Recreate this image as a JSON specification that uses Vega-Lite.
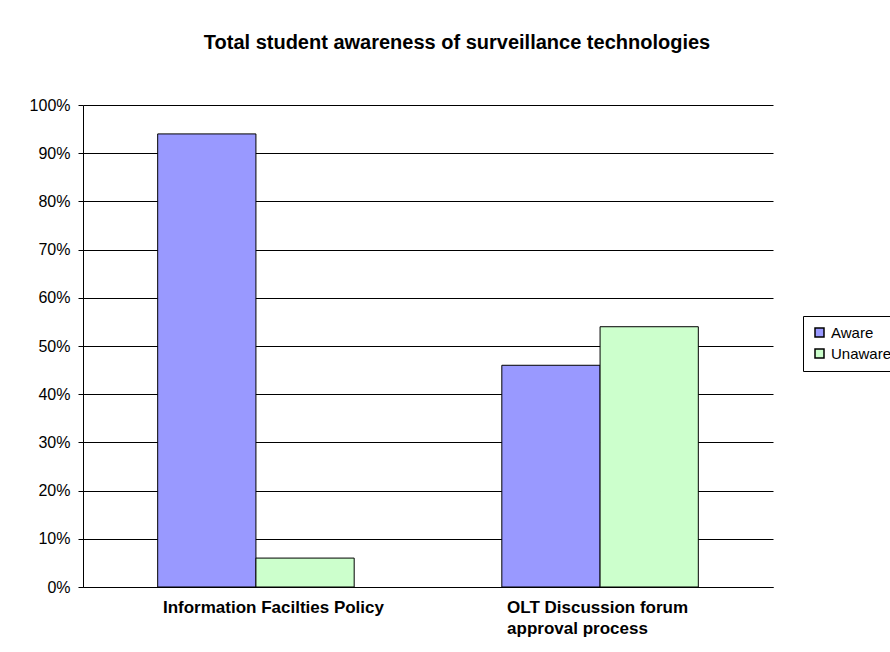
{
  "$schema": "https://vega.github.io/schema/vega-lite/v6.json",
  "width": 690,
  "height": 482,
  "autosize": {"type": "none"},
  "padding": {"left": 83, "top": 105, "right": 117, "bottom": 65},
  "background": "white",
  "title": {
    "text": "Total student awareness of surveillance technologies",
    "font": "Liberation Sans",
    "fontSize": 20,
    "fontWeight": "bold",
    "color": "black",
    "anchor": "middle",
    "dx": 29,
    "offset": 44
  },
  "data": {
    "values": [
      {"category": "Information Facilties Policy", "status": "Aware", "value": 0.94},
      {"category": "Information Facilties Policy", "status": "Unaware", "value": 0.06},
      {"category": "OLT Discussion forum approval process", "status": "Aware", "value": 0.46},
      {"category": "OLT Discussion forum approval process", "status": "Unaware", "value": 0.54}
    ]
  },
  "mark": {"type": "bar", "stroke": "black", "strokeWidth": 1},
  "encoding": {
    "x": {
      "field": "category",
      "type": "nominal",
      "title": null,
      "scale": {"paddingInner": 0.429, "paddingOuter": 0.217},
      "axis": {
        "labelAngle": 0,
        "labelAlign": "left",
        "labelBaseline": "top",
        "labelOffset": -93,
        "labelPadding": 12,
        "labelFont": "Liberation Sans",
        "labelFontSize": 17,
        "labelFontWeight": "bold",
        "labelColor": "black",
        "labelLineHeight": 21,
        "labelLimit": 400,
        "ticks": false,
        "domain": true,
        "domainColor": "black",
        "labelExpr": "datum.label == 'OLT Discussion forum approval process' ? ['OLT Discussion forum', 'approval process'] : datum.label"
      }
    },
    "xOffset": {"field": "status", "type": "nominal", "scale": {"paddingInner": 0, "paddingOuter": 0}},
    "y": {
      "field": "value",
      "type": "quantitative",
      "title": null,
      "scale": {"domain": [0, 1], "nice": false},
      "axis": {
        "format": ".0%",
        "values": [0, 0.1, 0.2, 0.3, 0.4, 0.5, 0.6, 0.7, 0.8, 0.9, 1],
        "grid": true,
        "gridColor": "black",
        "gridOpacity": 1,
        "gridWidth": 1,
        "domainColor": "black",
        "tickColor": "black",
        "tickSize": 5,
        "labelPadding": 8,
        "labelFont": "Liberation Sans",
        "labelFontSize": 16,
        "labelColor": "black"
      }
    },
    "fill": {
      "field": "status",
      "type": "nominal",
      "scale": {"domain": ["Aware", "Unaware"], "range": ["#9999FF", "#CCFFCC"]},
      "legend": {
        "title": null,
        "orient": "none",
        "legendX": 720,
        "legendY": 211,
        "symbolType": "square",
        "symbolSize": 81,
        "symbolStrokeColor": "black",
        "symbolStrokeWidth": 1.5,
        "labelFont": "Liberation Sans",
        "labelFontSize": 15,
        "labelColor": "black",
        "labelOffset": 4,
        "strokeColor": "black",
        "padding": 9,
        "rowPadding": 5,
        "fillColor": "white"
      }
    }
  },
  "config": {
    "view": {"stroke": null},
    "axis": {"gridDash": []}
  }
}
